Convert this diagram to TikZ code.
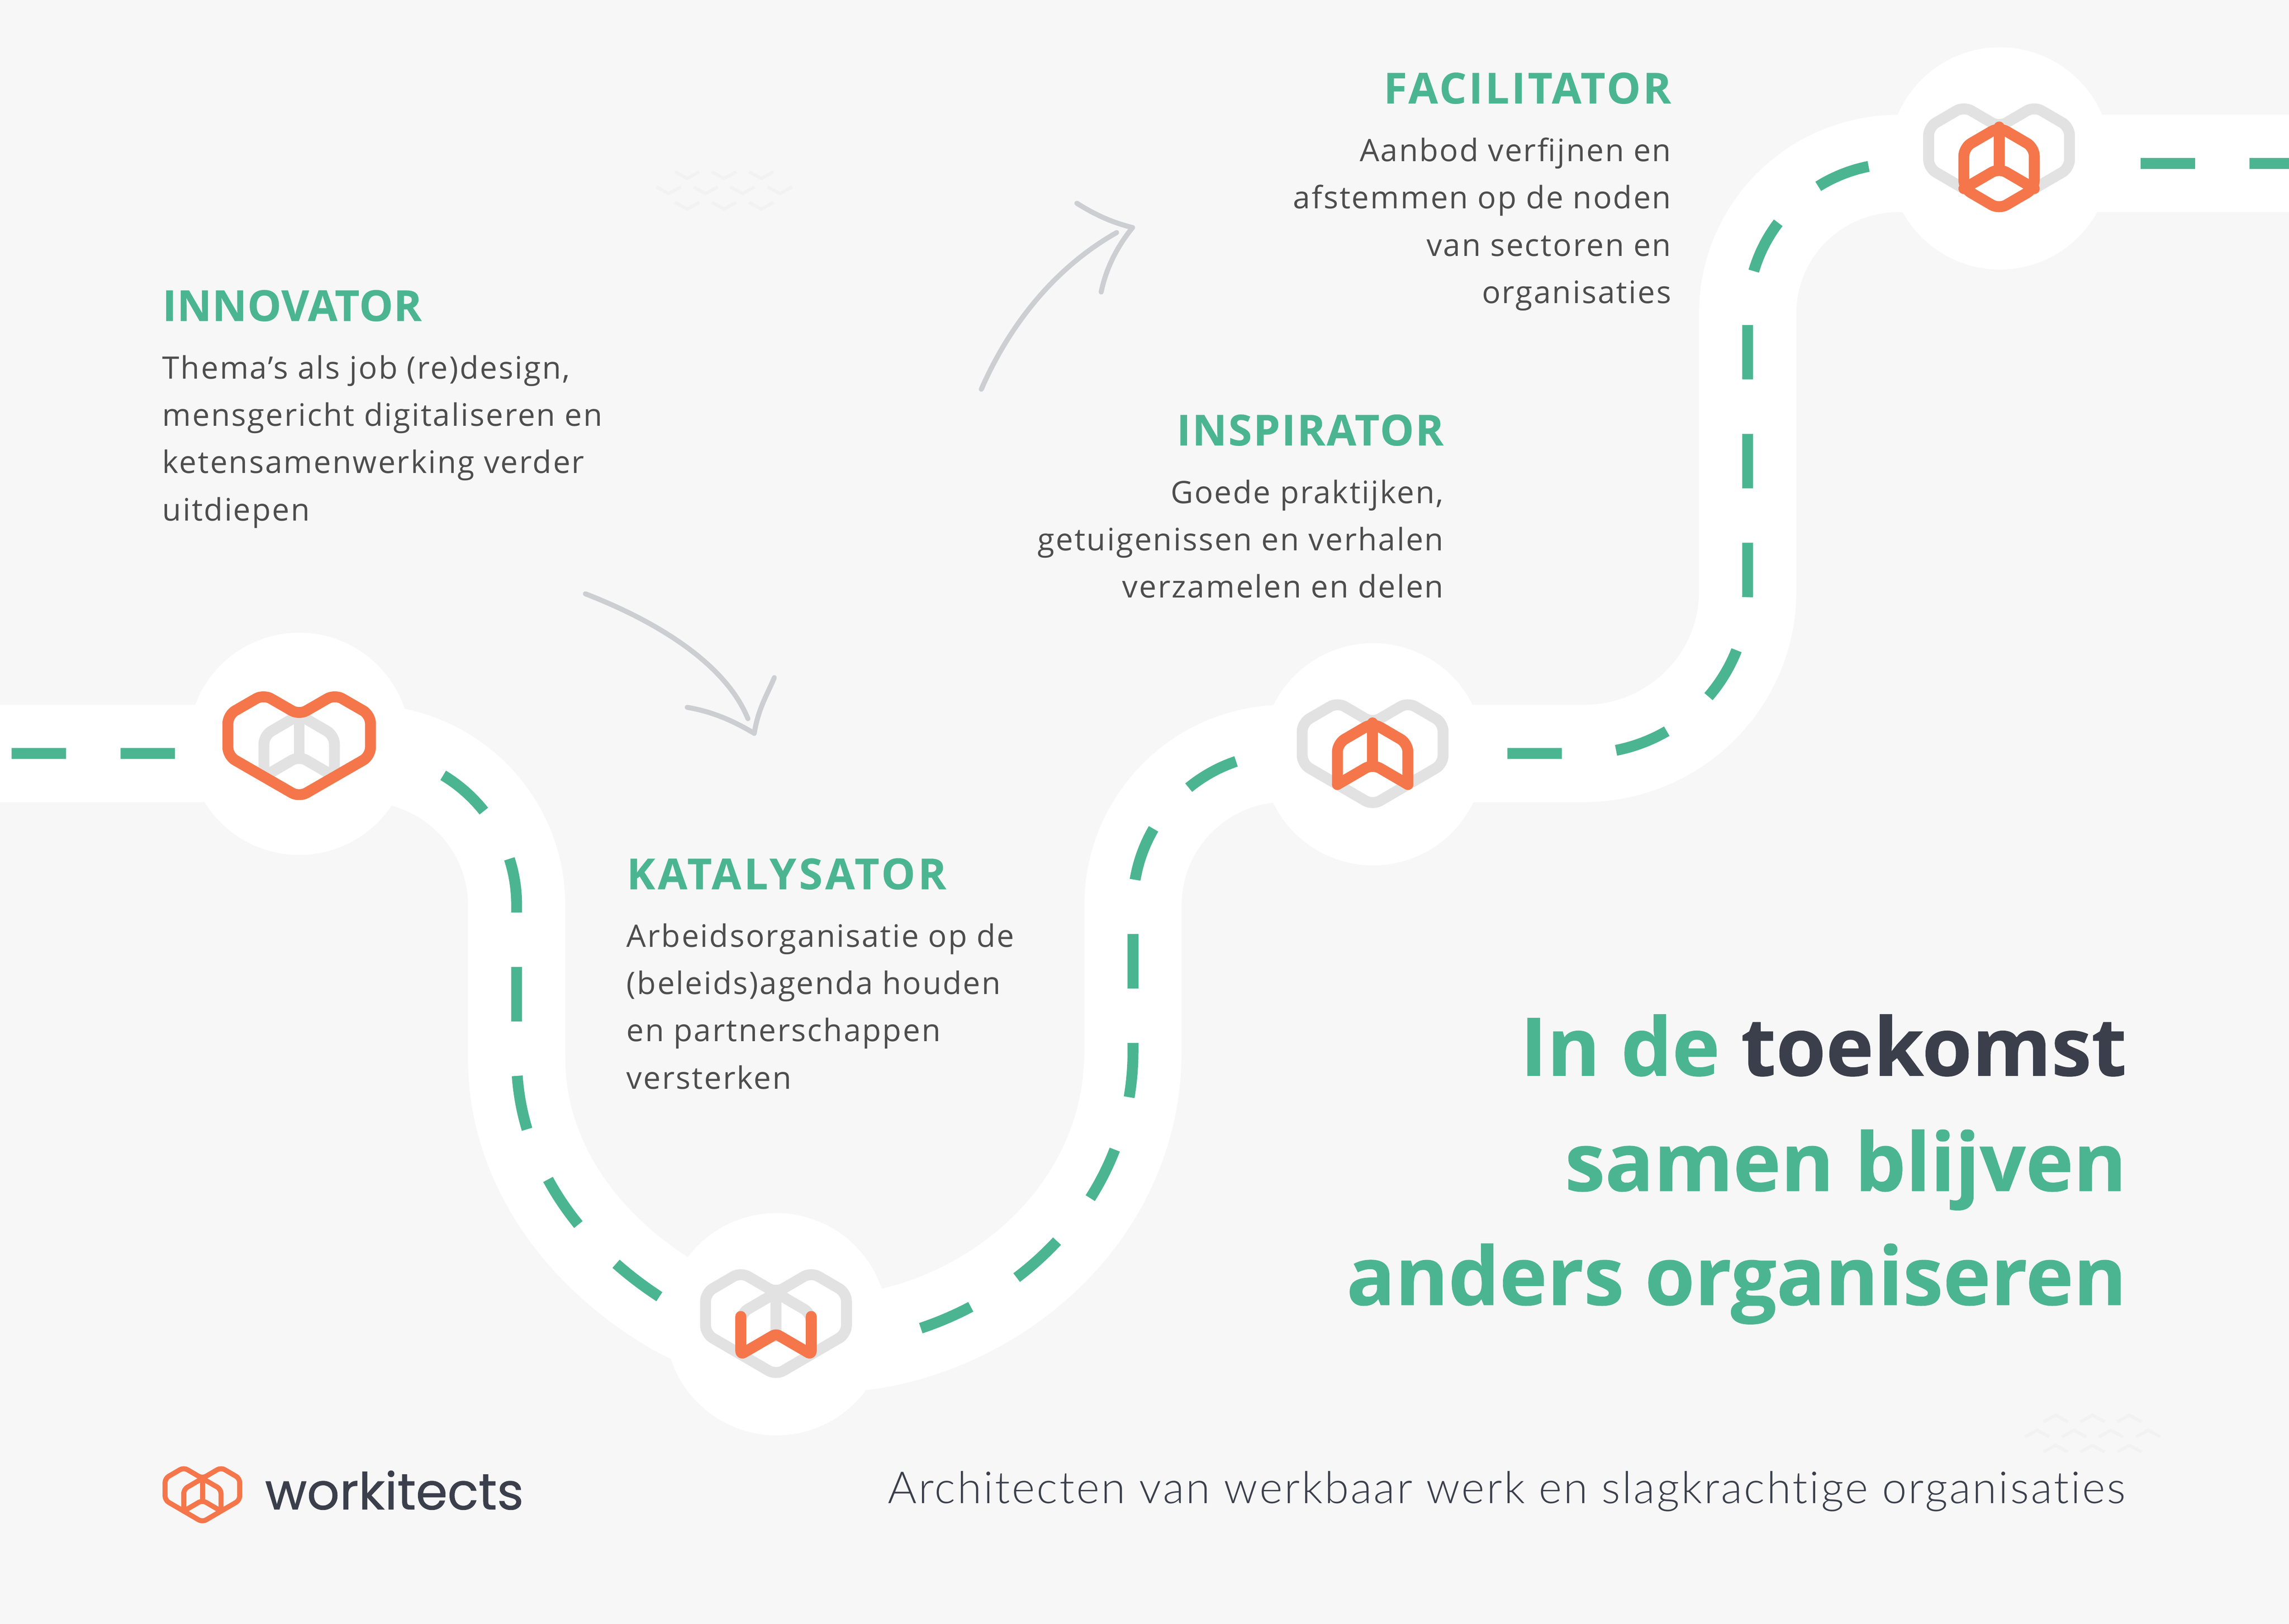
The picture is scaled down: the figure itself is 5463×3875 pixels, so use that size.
\documentclass[tikz,border=0pt]{standalone}
\usepackage{fontspec}
\setmainfont{Open Sans}
\newfontfamily\bodyfont{Open Sans}[LetterSpace=4.2]
\newfontfamily\headfont{Open Sans}[BoldFeatures={FakeBold=0.3}]
\newfontfamily\titlefont{Open Sans}[BoldFeatures={FakeBold=0.5}]
\newfontfamily\lightfont{Lato Light}[LetterSpace=4,Ligatures=NoCommon]
\newfontfamily\logofont{Poppins}[FakeBold=0.8]
\definecolor{paper}{HTML}{F7F7F7}
\definecolor{roadgreen}{HTML}{4BB591}
\definecolor{hexorange}{HTML}{F5764A}
\definecolor{hexgray}{HTML}{E2E2E2}
\definecolor{inkdark}{HTML}{3B3F4C}
\definecolor{inkbody}{HTML}{4D4D4D}
\definecolor{sketchgray}{HTML}{CDCED2}
\definecolor{wavegray}{HTML}{F2F2F2}
\tikzset{
  roadbed/.style={draw=white,line width=2.32cm},
  roaddash/.style={draw=roadgreen,line width=.26cm,dash pattern=on 1.2985cm off 1.2985cm},
  stop/.style={circle,fill=white,minimum size=5.3cm,inner sep=0pt},
  hexline/.style={line width=.26cm,rounded corners=.2cm,line cap=round,line join=round,x=.84cm,y=-.49cm},
  logoline/.style={line width=.12cm,rounded corners=.1cm,line cap=round,line join=round,x=.445cm,y=-.26cm,draw=hexorange},
  role/.style={inner sep=0pt,text=roadgreen,font=\headfont\fontsize{29}{35}\selectfont\bfseries},
  blurb/.style={inner sep=0pt,text=inkbody,font=\bodyfont\fontsize{21}{32.1}\selectfont},
  slogan/.style={inner sep=0pt,text=roadgreen,font=\titlefont\fontsize{54.8}{66}\selectfont\bfseries},
  sketch/.style={draw=sketchgray,line width=.12cm,line cap=round,line join=round},
  wave/.style={draw=wavegray,line width=.075cm},
  heartline/.pic={\draw[pic actions] (-2,0) -- (-1,-1) -- (0,0) -- (1,-1) -- (2,0) -- (2,2) -- (0,4) -- (-2,2) -- cycle;},
  cubeline/.pic={
    \draw[pic actions] (-1,3) -- (-1,1) -- (0,0) -- (1,1) -- (1,3);
    \draw[pic actions] (0,0) -- (0,2);
    \draw[pic actions] (-1,3) -- (0,2) -- (1,3);
  },
  boxline/.pic={
    \draw[pic actions] (0,0) -- (1,1) -- (1,3) -- (0,4) -- (-1,3) -- (-1,1) -- cycle;
    \draw[pic actions] (0,0) -- (0,2);
    \draw[pic actions] (-1,3) -- (0,2) -- (1,3);
  },
  wline/.pic={\draw[pic actions,rounded corners=.08cm] (-1,1.15) -- (-1,3) -- (0,2) -- (1,3) -- (1,1.15);}
}
\begin{document}
\begin{tikzpicture}[x=.01cm,y=-.01cm]
    \useasboundingbox[fill=paper] (0,0) rectangle (5463,3875);

    \coordinate (roadstart) at (-232,1798);
    \coordinate (roadend) at (5600,390);
    \draw[roadbed,postaction={roaddash}] (roadstart) -- (870,1798)
      .. controls (1070,1798) and (1233,1960) .. (1233,2160) -- (1233,2526)
      .. controls (1233,2770) and (1385,2985) .. (1612,3118)
      .. controls (1752,3195) and (1916,3223) .. (2083,3198)
      .. controls (2400,3145) and (2704,2880) .. (2704,2508) -- (2704,2160)
      .. controls (2704,1960) and (2866,1798) .. (3066,1798) -- (3780,1798)
      .. controls (3995,1798) and (4171,1626) .. (4171,1411) -- (4171,749)
      .. controls (4171,549) and (4332,390) .. (4532,390) -- (roadend);

    \node[stop] (innovator) at (714,1775) {};
    \node[stop] (katalysator) at (1853,3160) {};
    \node[stop] (inspirator) at (3277,1800) {};
    \node[stop] (facilitator) at (4773,378) {};

    \coordinate (hexone) at (714,1706);
    \coordinate (hextwo) at (1852,3085);
    \coordinate (hexthree) at (3276,1725);
    \coordinate (hexfour) at (4771,303);
    \coordinate (hexlogo) at (483,3528);

    \pic[hexline,draw=hexgray] at (hexone) {cubeline};
    \pic[hexline,draw=hexorange,x=.85cm] at (hexone) {heartline};
    \foreach \spot in {hextwo,hexthree,hexfour} {
      \pic[hexline,draw=hexgray] at (\spot) {heartline};
      \pic[hexline,draw=hexgray] at (\spot) {cubeline};
    }
    \pic[hexline,draw=hexorange] at (hextwo) {wline};
    \pic[hexline,draw=hexorange] at (hexthree) {cubeline};
    \pic[hexline,draw=hexorange] at (hexfour) {boxline};

    \node[role,anchor=base west] (innovatorrole) at (387,766) {\addfontfeature{LetterSpace=1}INNOVATOR};
    \node[blurb,anchor=north west,align=left] (innovatortext) at (387,847)
      {Thema’s als job (re)design,\\mensgericht digitaliseren en\\ketensamenwerking verder\\uitdiepen};
    \node[role,anchor=base west] (katalysatorrole) at (1495,2122) {\addfontfeature{LetterSpace=6.5}KATALYSATOR};
    \node[blurb,anchor=north west,align=left] (katalysatortext) at (1495,2203)
      {Arbeidsorganisatie op de\\(beleids)agenda houden\\en partnerschappen\\versterken};
    \node[role,anchor=base east] (inspiratorrole) at (3446,1063) {\addfontfeature{LetterSpace=3.3}INSPIRATOR};
    \node[blurb,anchor=north east,align=right] (inspiratortext) at (3446,1144)
      {Goede praktijken,\\getuigenissen en verhalen\\verzamelen en delen};
    \node[role,anchor=base east] (facilitatorrole) at (3989,247) {\addfontfeature{LetterSpace=5.2}FACILITATOR};
    \node[blurb,anchor=north east,align=right] (facilitatortext) at (3989,328)
      {Aanbod verfijnen en\\afstemmen op de noden\\van sectoren en\\organisaties};

    \node[slogan,anchor=base east] (sloganone) at (5076,2567) {In de \textcolor{inkdark}{toekomst}};
    \node[slogan,anchor=base east] (slogantwo) at (5076,2842) {samen blijven};
    \node[slogan,anchor=base east] (sloganthree) at (5076,3114) {anders organiseren};

    \node[inner sep=0pt,anchor=base east,text=inkdark,font=\lightfont\fontsize{30}{36}\selectfont] (tagline) at (5073,3588)
      {Architecten van werkbaar werk en slagkrachtige organisaties};

    % logo
    \pic[logoline] at (hexlogo) {heartline};
    \pic[logoline] at (hexlogo) {cubeline};
    \node[inner sep=0pt,anchor=base west,text=inkdark,font=\logofont\fontsize{34.6}{40}\selectfont] (logotext) at (632,3602) {workitects};

    % arrows
    \coordinate (upfoot) at (2342,929);
    \coordinate (uptip) at (2703,543);
    \draw[sketch] (upfoot) .. controls (2385,830) and (2480,660) .. (2665,555);
    \draw[sketch] (2570,485) .. controls (2610,510) and (2650,530) .. (uptip)
      .. controls (2665,590) and (2640,640) .. (2628,697);
    \coordinate (downfoot) at (1397,1417);
    \coordinate (downtip) at (1800,1750);
    \draw[sketch] (downfoot) .. controls (1560,1480) and (1730,1580) .. (1785,1715);
    \draw[sketch] (1640,1688) .. controls (1700,1698) and (1750,1720) .. (downtip)
      .. controls (1810,1690) and (1830,1660) .. (1848,1617);

    % waves
    \foreach \ax/\ay in {1640/410,1728/410,1817/410,1596/446,1684/446,1772/446,1861/446,1640/483,1728/483,1817/483} {
      \draw[wave] (\ax-29,\ay) -- (\ax,\ay+16) -- (\ax+29,\ay);
    }
    \foreach \ax/\ay in {4906/3393,4994/3393,5082/3393,4862/3429,4950/3429,5038/3429,5127/3429,4906/3465,4994/3465,5082/3465} {
      \draw[wave] (\ax-29,\ay) -- (\ax,\ay-16) -- (\ax+29,\ay);
    }
  \end{tikzpicture}
\end{document}
